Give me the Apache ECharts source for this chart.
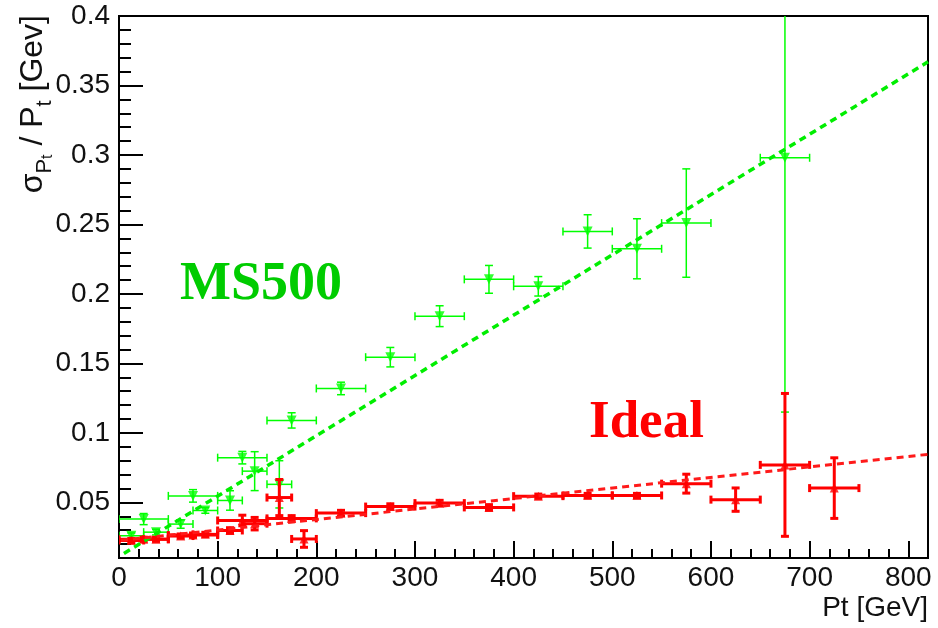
<!DOCTYPE html>
<html><head><meta charset="utf-8">
<script src="https://cdn.jsdelivr.net/npm/echarts@6/dist/echarts.min.js"></script>
<style>html,body{margin:0;padding:0;background:#fff}#c{width:938px;height:628px}</style>
</head><body><div id="c"></div>
<script>
// ---- data ----
const greenX    = [12.5, 25, 37.5, 62.5, 75, 87.5, 112.5, 125, 137.5, 162.5, 175, 225, 275, 325, 375, 425, 475, 525, 575, 675];
const greenY    = [0.026, 0.038, 0.0286, 0.0344, 0.0547, 0.0442, 0.0514, 0.0822, 0.0725, 0.063, 0.109, 0.132, 0.1545, 0.184, 0.2105, 0.2055, 0.245, 0.2325, 0.251, 0.298];
const greenXErr = [12.5, 25, 12.5, 12.5, 25, 12.5, 12.5, 25, 12.5, 12.5, 25, 25, 25, 25, 25, 25, 25, 25, 25, 25];
const greenYErr = [0.002, 0.004, 0.002, 0.003, 0.0045, 0.002, 0.007, 0.0045, 0.014, 0.017, 0.0055, 0.0045, 0.007, 0.0075, 0.01, 0.007, 0.012, 0.0216, 0.039, 0.183];

const redX    = [12.5, 25, 37.5, 62.5, 75, 87.5, 112.5, 125, 137.5, 162.5, 175, 187.5, 225, 275, 325, 375, 425, 475, 525, 575, 625, 675, 725];
const redY    = [0.0226, 0.0235, 0.0235, 0.0258, 0.0265, 0.027, 0.0298, 0.037, 0.0347, 0.0535, 0.0385, 0.0237, 0.0423, 0.047, 0.0495, 0.0464, 0.0545, 0.055, 0.055, 0.0635, 0.052, 0.077, 0.0603];
const redXErr = [12.5, 25, 12.5, 12.5, 25, 12.5, 12.5, 25, 12.5, 12.5, 25, 12.5, 25, 25, 25, 25, 25, 25, 25, 25, 25, 25, 25];
const redYErr = [0.0015, 0.0015, 0.0015, 0.0015, 0.0015, 0.0015, 0.002, 0.0038, 0.0045, 0.013, 0.002, 0.006, 0.002, 0.002, 0.002, 0.002, 0.0015, 0.0015, 0.0015, 0.0068, 0.0084, 0.0514, 0.0218];

// fitted straight lines (end points)
const greenFitX = [5, 820];
const greenFitY = [0.0133, 0.367];
const redFitX = [2, 820];
const redFitY = [0.0227, 0.0846];

// ticks / labels
const xMajor = [0, 100, 200, 300, 400, 500, 600, 700, 800];
const xMinor = [20,40,60,80,120,140,160,180,220,240,260,280,320,340,360,380,420,440,460,480,520,540,560,580,620,640,660,680,720,740,760,780,820];
const yMajor = [0.05, 0.1, 0.15, 0.2, 0.25, 0.3, 0.35, 0.4];
const yTickLabels = ['0.05', '0.1', '0.15', '0.2', '0.25', '0.3', '0.35', '0.4'];
const yMinor = [0.01,0.02,0.03,0.04,0.06,0.07,0.08,0.09,0.11,0.12,0.13,0.14,0.16,0.17,0.18,0.19,0.21,0.22,0.23,0.24,0.26,0.27,0.28,0.29,0.31,0.32,0.33,0.34,0.36,0.37,0.38,0.39];

const FONT = '"Liberation Sans", Arial, sans-serif';
const SERIF = '"Liberation Serif", "Times New Roman", serif';

function zip4(a, b, c, d) { return a.map((v, i) => [v, b[i], c[i], d[i]]); }

function errRender(color, width, cap) {
  return function (params, api) {
    const x = api.value(0), y = api.value(1), xe = api.value(2), ye = api.value(3);
    const L = api.coord([x - xe, y]), R = api.coord([x + xe, y]);
    const T = api.coord([x, y + ye]), B = api.coord([x, y - ye]);
    const st = { stroke: color, lineWidth: width };
    const ln = (x1, y1, x2, y2) => ({ type: 'line', shape: { x1, y1, x2, y2 }, style: st });
    return {
      type: 'group',
      children: [
        ln(L[0], L[1], R[0], R[1]),
        ln(T[0], T[1], B[0], B[1]),
        ln(L[0], L[1] - cap, L[0], L[1] + cap),
        ln(R[0], R[1] - cap, R[0], R[1] + cap),
        ln(T[0] - cap, T[1], T[0] + cap, T[1]),
        ln(B[0] - cap, B[1], B[0] + cap, B[1])
      ]
    };
  };
}

const chart = echarts.init(document.getElementById('c'), null, { renderer: 'canvas' });
const lbl = { fontSize: 28, fontFamily: FONT, color: '#111' };

chart.setOption({
  animation: false,
  backgroundColor: '#fff',
  grid: { left: 119, right: 10, top: 16, bottom: 70, show: true, borderColor: '#000', borderWidth: 2, backgroundColor: 'transparent' },
  xAxis: [
    {
      type: 'value', min: 0, max: 820,
      axisLine: { show: true, onZero: false, lineStyle: { color: '#000', width: 2 } },
      axisTick: { show: true, inside: true, length: 17, customValues: xMajor, lineStyle: { color: '#000', width: 2 } },
      axisLabel: Object.assign({ customValues: xMajor, margin: 6 }, lbl),
      splitLine: { show: false }
    },
    {
      type: 'value', min: 0, max: 820, position: 'bottom',
      axisLine: { show: false },
      axisTick: { show: true, inside: true, length: 9, customValues: xMinor, lineStyle: { color: '#000', width: 2 } },
      axisLabel: { show: false },
      splitLine: { show: false }
    }
  ],
  yAxis: [
    {
      type: 'value', min: 0.01, max: 0.4,
      axisLine: { show: true, lineStyle: { color: '#000', width: 2 } },
      axisTick: { show: true, inside: true, length: 24, customValues: yMajor, lineStyle: { color: '#000', width: 2 } },
      axisLabel: Object.assign({
        customValues: yMajor, margin: 9,
        formatter: function (v) {
          for (let i = 0; i < yMajor.length; i++) if (Math.abs(yMajor[i] - v) < 1e-9) return yTickLabels[i];
          return '';
        }
      }, lbl),
      splitLine: { show: false }
    },
    {
      type: 'value', min: 0.01, max: 0.4, position: 'left',
      axisLine: { show: false },
      axisTick: { show: true, inside: true, length: 12, customValues: yMinor, lineStyle: { color: '#000', width: 2 } },
      axisLabel: { show: false },
      splitLine: { show: false }
    }
  ],
  graphic: [
    {
      type: 'text', x: 10, y: 15, rotation: Math.PI / 2,
      style: {
        text: '{m|σ}{s|P}{ss|t}{m| / P}{s|t}{m| [Gev]}',
        align: 'right', verticalAlign: 'top', fill: '#111',
        rich: {
          m: { fontSize: 32, fontFamily: FONT, lineHeight: 46, fill: '#111' },
          s: { fontSize: 22, fontFamily: FONT, lineHeight: 25, verticalAlign: 'bottom', fill: '#111' },
          ss: { fontSize: 16, fontFamily: FONT, lineHeight: 10, verticalAlign: 'bottom', fill: '#111' }
        }
      }
    },
    {
      type: 'text', right: 10, top: 594,
      style: { text: 'Pt [GeV]', fontSize: 28, fontFamily: FONT, fill: '#111' }
    },
    {
      type: 'text', left: 180, top: 258,
      style: { text: 'MS500', fontSize: 54, fontWeight: 'bold', fontFamily: SERIF, fill: '#00cc00' }
    },
    {
      type: 'text', left: 589, top: 397,
      style: { text: 'Ideal', fontSize: 53, fontWeight: 'bold', fontFamily: SERIF, fill: '#ff0000' }
    }
  ],
  series: [
    {
      type: 'custom', name: 'MS500 err', xAxisIndex: 0, yAxisIndex: 0, clip: true,
      renderItem: errRender('#00ff00', 1.5, 4),
      encode: { x: 0, y: 1 },
      data: zip4(greenX, greenY, greenXErr, greenYErr), z: 2
    },
    {
      type: 'scatter', name: 'MS500', xAxisIndex: 0, yAxisIndex: 0,
      symbol: 'triangle', symbolRotate: 180, symbolSize: 10,
      itemStyle: { color: '#00ff00' },
      data: greenX.map((x, i) => [x, greenY[i]]), z: 3
    },
    {
      type: 'custom', name: 'Ideal err', xAxisIndex: 0, yAxisIndex: 0, clip: true,
      renderItem: errRender('#ff0000', 3, 4),
      encode: { x: 0, y: 1 },
      data: zip4(redX, redY, redXErr, redYErr), z: 4
    },
    {
      type: 'scatter', name: 'Ideal', xAxisIndex: 0, yAxisIndex: 0,
      symbol: 'triangle', symbolSize: 9,
      itemStyle: { color: '#ff0000' },
      data: redX.map((x, i) => [x, redY[i]]), z: 5
    },
    {
      type: 'line', name: 'MS500 fit', xAxisIndex: 0, yAxisIndex: 0,
      showSymbol: false, symbol: 'none',
      lineStyle: { color: '#00ee00', width: 3.5, type: [7, 5] },
      data: greenFitX.map((x, i) => [x, greenFitY[i]]), z: 6
    },
    {
      type: 'line', name: 'Ideal fit', xAxisIndex: 0, yAxisIndex: 0,
      showSymbol: false, symbol: 'none',
      lineStyle: { color: '#ff1a1a', width: 3, type: [7, 5] },
      data: redFitX.map((x, i) => [x, redFitY[i]]), z: 6
    }
  ]
});
</script>
</body></html>
